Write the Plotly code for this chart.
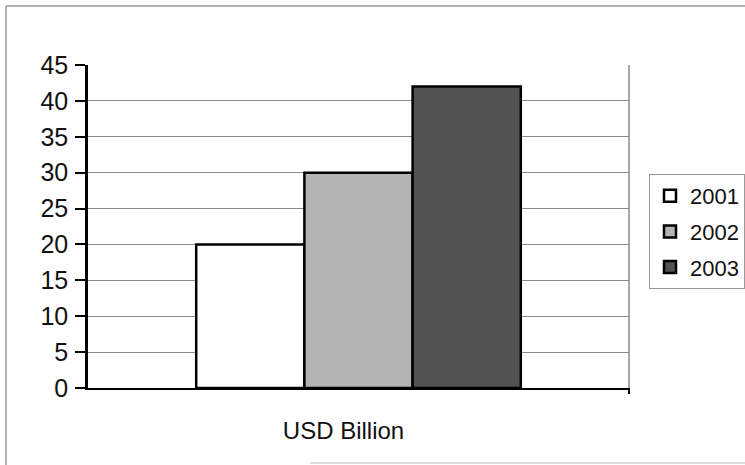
import plotly.graph_objects as go

categories = ["USD Billion"]
series_names = ["2001", "2002", "2003"]
values_2001 = [20]
values_2002 = [30]
values_2003 = [42]
series_values = [values_2001, values_2002, values_2003]
fill_colors = ["#ffffff", "#b3b3b3", "#525252"]
y_ticks = [0, 5, 10, 15, 20, 25, 30, 35, 40, 45]

W, H = 745, 465
L, R, T, B = 88, 116, 65, 77
pw, ph = W - L - R, H - T - B

def px_x(p):
    return (p - L) / pw

def px_y(p):
    return (H - B - p) / ph

fig = go.Figure()
for name, vals, col in zip(series_names, series_values, fill_colors):
    fig.add_trace(go.Bar(
        x=categories, y=vals, name=name, legendgroup=name,
        marker=dict(color=col, line=dict(color="#000000", width=2.5)),
    ))

font = "Liberation Sans, Arial, sans-serif"
fig.update_layout(
    width=W, height=H,
    margin=dict(l=L, r=R, t=T, b=B, pad=0, autoexpand=False),
    paper_bgcolor="#ffffff", plot_bgcolor="#ffffff",
    barmode="group", bargap=0.4, bargroupgap=0,
    font=dict(family=font, color="#111111"),
    showlegend=True,
    legend=dict(
        x=px_x(649), xanchor="left", y=px_y(231.5), yanchor="middle",
        bordercolor="#999999", borderwidth=1, bgcolor="#ffffff",
        font=dict(size=22, family=font, color="#111111"),
        itemwidth=30, traceorder="grouped", tracegroupgap=4,
    ),
    xaxis=dict(
        showline=True, linecolor="#000000", linewidth=2,
        ticks="", tickfont=dict(size=24, family=font),
        ticklabelstandoff=20, ticklabelshift=-15,
        showgrid=False, zeroline=False,
    ),
    yaxis=dict(
        range=[0, 45], tickvals=y_ticks, ticks="outside", ticklen=10,
        tickwidth=1.5, tickcolor="#000000",
        showline=True, linecolor="#000000", linewidth=2.5,
        showgrid=True, gridcolor="#8a8a8a", gridwidth=1,
        tickfont=dict(size=25, family=font), ticklabelstandoff=2,
        zeroline=False,
    ),
)

# plot-area right border and end tick
fig.add_shape(type="line", xref="paper", yref="paper", x0=1, x1=1, y0=0, y1=1,
              line=dict(color="#8a8a8a", width=1.5))
fig.add_shape(type="line", xref="paper", yref="paper", x0=1, x1=1,
              y0=px_y(394), y1=0, line=dict(color="#000000", width=2))
# outer chart border
fig.add_shape(type="line", xref="paper", yref="paper", x0=px_x(6), x1=px_x(6),
              y0=px_y(6), y1=px_y(470), line=dict(color="#9a9a9a", width=1.5))
fig.add_shape(type="line", xref="paper", yref="paper", x0=px_x(6), x1=px_x(760),
              y0=px_y(6), y1=px_y(6), line=dict(color="#9a9a9a", width=1.5))
fig.add_shape(type="line", xref="paper", yref="paper", x0=px_x(310), x1=px_x(760),
              y0=px_y(463), y1=px_y(463), line=dict(color="#cfcfcf", width=1.5))

fig.write_html("out.html", config={"displayModeBar": False},
               post_script="document.body.style.margin='0';document.body.style.overflow='hidden';")
